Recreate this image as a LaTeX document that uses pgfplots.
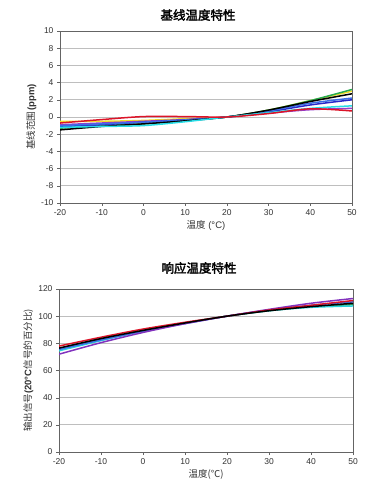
\documentclass[border=0pt]{standalone}
\usepackage{pgfplots}
\pgfplotsset{compat=1.18}
\usepackage{fontspec}
\setmainfont{Liberation Sans}
\newfontfamily\cjk{Noto Sans CJK SC}
\newfontfamily\cjkb{Noto Sans CJK SC}[FakeBold=2.5]
\definecolor{gridc}{RGB}{190,190,190}
\definecolor{axc}{RGB}{100,100,100}
\definecolor{tickc}{RGB}{50,50,50}
\pgfplotsset{
  common/.style={
    scale only axis,
    anchor=south west,
    xmin=-20, xmax=50,
    xtick={-20,-10,...,50},
    tick align=outside, tick pos=left,
    major tick length=3pt,
    ymajorgrids, grid style={gridc, line width=0.9pt},
    axis line style={axc, line width=0.8pt},
    tick style={axc},
    tick label style={font=\fontsize{8.5}{10}\selectfont, text=tickc},
    /pgf/number format/assume math mode=true,
    label style={font=\fontsize{9.5}{11}\selectfont, text=tickc},
    every axis plot/.append style={smooth, no marks, line width=1.5pt},
  }
}
\begin{document}
\begin{tikzpicture}
\useasboundingbox (0pt,0pt) rectangle (389pt,489pt);
\node[font=\cjkb\fontsize{12.5}{14}\selectfont] at (198pt,474pt) {基线温度特性};
\node[font=\cjkb\fontsize{12.5}{14}\selectfont] at (199pt,221pt) {响应温度特性};
\begin{axis}[common, at={(60pt,286pt)}, width=292pt, height=172pt,
  ymin=-10, ymax=10, ytick={-10,-8,...,10},
  xlabel={{\cjk 温度} (°C)}, ylabel={{\cjk 基线范围}\,\textbf{(ppm)}},
  xlabel style={yshift=2pt}, ylabel style={yshift=-2pt}]
\addplot[color={rgb,255:red,240;green,220;blue,40}] coordinates {(-20,-0.5) (-10,-0.5) (0,-0.4) (10,-0.2) (20,0) (30,0.8) (40,1.9) (50,3.0)};
\addplot[color={rgb,255:red,40;green,170;blue,80}] coordinates {(-20,-1.3) (-10,-1.0) (0,-0.8) (10,-0.4) (20,0) (30,0.8) (40,1.9) (50,3.2)};
\addplot[color={rgb,255:red,150;green,60;blue,200}] coordinates {(-20,-0.9) (-10,-0.7) (0,-0.5) (10,-0.3) (20,0) (30,0.45) (40,0.85) (50,1.0)};
\addplot[color={rgb,255:red,40;green,40;blue,200}] coordinates {(-20,-1.1) (-10,-0.9) (0,-0.6) (10,-0.35) (20,0) (30,0.6) (40,1.4) (50,2.0)};
\addplot[color={rgb,255:red,60;green,110;blue,230}] coordinates {(-20,-1.0) (-10,-0.8) (0,-0.6) (10,-0.35) (20,0) (30,0.7) (40,1.6) (50,2.2)};
\addplot[color={rgb,255:red,0;green,0;blue,0}] coordinates {(-20,-1.5) (-10,-1.1) (0,-0.8) (10,-0.45) (20,0) (30,0.8) (40,1.8) (50,2.7)};
\addplot[color={rgb,255:red,40;green,220;blue,230}] coordinates {(-20,-1.2) (-10,-1.1) (0,-1.0) (10,-0.55) (20,0) (30,0.5) (40,1.0) (50,1.3)};
\addplot[color={rgb,255:red,220;green,20;blue,40}] coordinates {(-20,-0.7) (-10,-0.3) (0,0.05) (10,0.05) (20,0) (30,0.4) (40,0.95) (50,0.7)};
\end{axis}
\begin{axis}[common, at={(59pt,37pt)}, width=294pt, height=163pt,
  ymin=0, ymax=120, ytick={0,20,...,120},
  xlabel={{\cjk 温度(℃)}}, ylabel={{\cjk 输出信号}\textbf{(20°C}{\cjk 信号的百分比)}},
  xlabel style={yshift=2pt}, ylabel style={yshift=-2pt}]
\addplot[color={rgb,255:red,40;green,150;blue,80}] coordinates {(-20,76) (-10,83) (0,89.5) (10,95) (20,100) (30,104) (40,107) (50,108.5)};
\addplot[color={rgb,255:red,40;green,210;blue,220}] coordinates {(-20,74.5) (-10,82) (0,89) (10,95) (20,100) (30,104) (40,106.5) (50,107.5)};
\addplot[color={rgb,255:red,60;green,110;blue,230}] coordinates {(-20,75.5) (-10,82.5) (0,89) (10,94.5) (20,100) (30,104.5) (40,108) (50,110.5)};
\addplot[color={rgb,255:red,130;green,50;blue,190}] coordinates {(-20,72) (-10,80.5) (0,88) (10,94.5) (20,100) (30,105) (40,109.5) (50,113)};
\addplot[color={rgb,255:red,220;green,20;blue,40}] coordinates {(-20,78) (-10,84.5) (0,90.5) (10,95.5) (20,100) (30,104.5) (40,108) (50,111.5)};
\addplot[color={rgb,255:red,0;green,0;blue,0}] coordinates {(-20,76.5) (-10,83.5) (0,89.5) (10,95) (20,100) (30,104) (40,107) (50,109.5)};
\end{axis}
\end{tikzpicture}
\end{document}
